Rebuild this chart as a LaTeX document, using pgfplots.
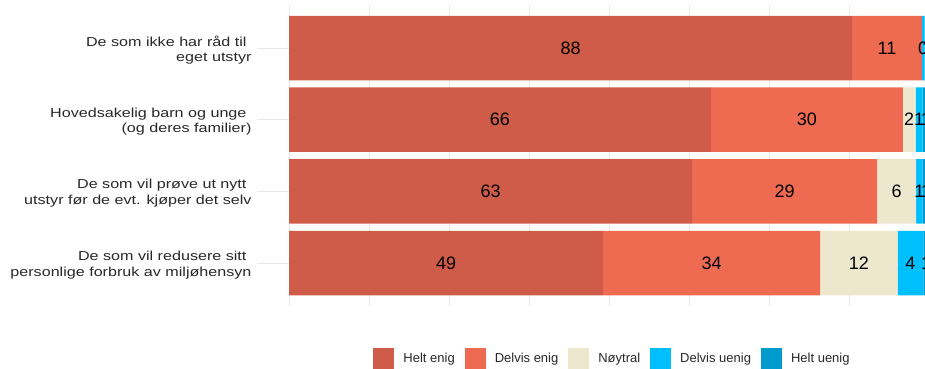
\documentclass[border=0pt]{standalone}
\usepackage{pgfplots}
\usepackage{pgfplotstable}
\pgfplotsset{compat=1.18}
\usepackage{fontspec}
\setmainfont{Liberation Sans}
\newfontfamily\widefont[FakeStretch=1.24]{Liberation Sans}
\definecolor{heltenig}{RGB}{206,92,72}
\definecolor{delvisenig}{RGB}{238,107,82}
\definecolor{noytral}{RGB}{237,231,206}
\definecolor{delvisuenig}{RGB}{0,191,255}
\definecolor{heltuenig}{RGB}{0,154,205}
\definecolor{txt}{RGB}{40,40,40}
\pgfplotstableread{
row he de no du hu
0 88.0 10.9 0.0 0.4 0.7
1 65.9 30.0 2.0 1.1 1.0
2 63.0 28.9 6.1 1.0 1.0
3 49.1 33.9 12.1 4.0 0.9
}\data
\begin{document}
\begin{tikzpicture}
\useasboundingbox (0,0) rectangle (925pt,368pt);
\begin{axis}[
  at={(257pt,62pt)}, anchor=south west,
  scale only axis, width=704pt, height=301pt,
  xbar stacked, bar width=0.9,
  xmin=-5, xmax=105, ymin=-0.6, ymax=3.6, y dir=reverse,
  xtick={0,12.5,...,100}, xticklabels={},
  ytick={0,1,2,3},
  yticklabels={{De som ikke har råd til\kern5pt\\eget utstyr},
               {Hovedsakelig barn og unge\kern5pt\\(og deres familier)},
               {De som vil prøve ut nytt\kern5pt\\utstyr før de evt. kjøper det selv},
               {De som vil redusere sitt\kern5pt\\personlige forbruk av miljøhensyn}},
  yticklabel style={align=right, font=\widefont\fontsize{13}{15.7}\selectfont, text=txt, xshift=-2pt, yshift=-2pt},
  xmajorgrids, ymajorgrids, grid style={line width=0.6pt, color=black!9},
  axis line style={draw=none}, major tick length=0pt,
  point meta=explicit,
  nodes near coords={\pgfmathprintnumber[fixed,precision=0]{\pgfplotspointmeta}},
  /pgf/number format/assume math mode=true,
  every node near coord/.append style={font=\fontsize{18}{20}\selectfont, text=black, anchor=center},
  legend columns=5,
  legend style={draw=none, at={(0.505,-0.174)}, anchor=center, font=\fontsize{13}{15}\selectfont, text=txt,
    /tikz/every odd column/.append style={column sep=7pt},
    /tikz/every even column/.append style={column sep=8pt}},
  legend image code/.code={\fill[#1] (0pt,-10.5pt) rectangle (21pt,10.5pt);},
]
\addplot[fill=heltenig, draw=none] table[x=he, y=row, meta=he] {\data};
\addlegendentry{Helt enig}
\addplot[fill=delvisenig, draw=none] table[x=de, y=row, meta=de] {\data};
\addlegendentry{Delvis enig}
\addplot[fill=noytral, draw=none] table[x=no, y=row, meta=no] {\data};
\addlegendentry{Nøytral}
\addplot[fill=delvisuenig, draw=none] table[x=du, y=row, meta=du] {\data};
\addlegendentry{Delvis uenig}
\addplot[fill=heltuenig, draw=none] table[x=hu, y=row, meta=hu] {\data};
\addlegendentry{Helt uenig}
\end{axis}
\end{tikzpicture}
\end{document}
